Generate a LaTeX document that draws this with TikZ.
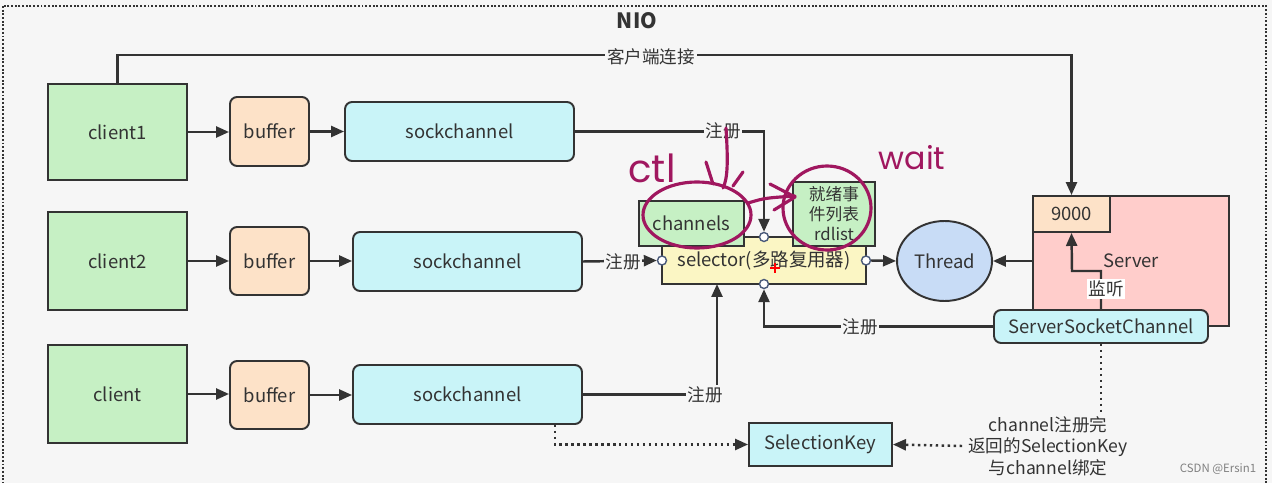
\documentclass[tikz,border=0pt]{standalone}
\usepackage{fontspec}
\setmainfont{Noto Sans CJK SC}
\newfontfamily\handfont{Poppins}
\usetikzlibrary{arrows.meta,shapes.geometric,calc}
\definecolor{bgc}{HTML}{F6F6F6}
\definecolor{linec}{HTML}{333333}
\definecolor{txtc}{HTML}{333333}
\definecolor{greenc}{HTML}{C6F0C4}
\definecolor{bufc}{HTML}{FDE2C8}
\definecolor{cyanc}{HTML}{C9F4F8}
\definecolor{selc}{HTML}{FBF6C4}
\definecolor{thrc}{HTML}{C8DCF6}
\definecolor{srvc}{HTML}{FFCDCB}
\definecolor{portc}{HTML}{4A5A7A}
\definecolor{handc}{HTML}{A0175F}
\begin{document}
\begin{tikzpicture}[x=0.02cm,y=-0.02cm,
  font=\fontsize{10.5}{13}\selectfont,
  box/.style={draw=linec,line width=1.1pt,text=txtc,inner sep=0pt,align=center},
  rbox/.style={box,rounded corners=4pt},
  conn/.style={draw=linec,line width=1.4pt,-{Triangle[length=0.26cm,width=0.22cm]}},
  plainc/.style={draw=linec,line width=1.4pt},
  dotc/.style={draw=linec,line width=1.4pt,dotted,-{Triangle[length=0.26cm,width=0.22cm]}},
  lbl/.style={fill=bgc,text=txtc,inner sep=1pt,font=\fontsize{10}{12}\selectfont},
  port/.style={circle,draw=portc,fill=white,line width=0.8pt,minimum size=0.18cm,inner sep=0pt},
  hw/.style={draw=handc,line width=1.8pt,line cap=round,line join=round},
]
\fill[bgc] (0,0) rectangle (1272,483);
\useasboundingbox (0,0) rectangle (1272,483);
\draw[linec,line width=1.1pt,densely dotted] (3,6) rectangle (1266,495);
\node[font=\bfseries\fontsize{12}{14}\selectfont,text=txtc] (title) at (637,21) {NIO};

% clients
\node[box,fill=greenc,minimum width=2.78cm,minimum height=1.92cm] (c1) at (117.5,132) {client1};
\node[box,fill=greenc,minimum width=2.78cm,minimum height=1.96cm] (c2) at (117.5,261) {client2};
\node[box,fill=greenc,minimum width=2.78cm,minimum height=1.96cm] (c3) at (117.5,394) {client};
% buffers
\node[rbox,fill=bufc,minimum width=1.58cm,minimum height=1.38cm] (b1) at (269.5,131.5) {buffer};
\node[rbox,fill=bufc,minimum width=1.58cm,minimum height=1.36cm] (b2) at (269.5,261) {buffer};
\node[rbox,fill=bufc,minimum width=1.58cm,minimum height=1.36cm] (b3) at (269.5,395) {buffer};
% sockchannels
\node[rbox,fill=cyanc,minimum width=4.58cm,minimum height=1.18cm] (s1) at (459.5,131.5) {sockchannel};
\node[rbox,fill=cyanc,minimum width=4.58cm,minimum height=1.18cm] (s2) at (467.5,261.5) {sockchannel};
\node[rbox,fill=cyanc,minimum width=4.58cm,minimum height=1.18cm] (s3) at (467.5,394.5) {sockchannel};

% selector
\node[box,fill=selc,minimum width=4.08cm,minimum height=0.94cm] (sel) at (764,260.5) {selector(多路复用器)};
\node[box,fill=greenc,minimum width=2.1cm,minimum height=0.9cm] (chs) at (691.5,223.5) {channels};
\node[box,fill=greenc,minimum width=1.64cm,minimum height=1.28cm,font=\fontsize{9.5}{11.4}\selectfont] (rdl) at (834,214) {就绪事\\件列表\\rdlist};
\node[port] (ptop) at (764,237) {};
\node[port] (pleft) at (662,260.5) {};
\node[port] (pright) at (866,260.5) {};
\node[port] (pbot) at (764,284) {};

% thread and server
\node[box,ellipse,fill=thrc,minimum width=1.9cm,minimum height=1.6cm] (thr) at (944.5,261) {Thread};
\node[box,fill=srvc,minimum width=3.92cm,minimum height=2.6cm] (srv) at (1131,261) {Server};
\node[box,fill=bufc,minimum width=1.54cm,minimum height=0.72cm] (p9000) at (1071.5,214) {9000};
\node[rbox,fill=cyanc,minimum width=4.28cm,minimum height=0.66cm] (ssc) at (1101,326.5) {ServerSocketChannel};
\node[box,fill=cyanc,minimum width=2.86cm,minimum height=0.86cm] (sk) at (820.5,444.5) {SelectionKey};
\node[text=txtc,align=center,font=\fontsize{10}{12.2}\selectfont] (note) at (1048,446) {channel注册完\\返回的SelectionKey\\与channel绑定};

% connectors
\coordinate (tr) at (1071.5,55);
\draw[conn] (c1.north) |- (tr) -- (p9000.north);
\node[lbl] (lk) at (651,57) {客户端连接};

\draw[conn] (c1.east) -- (c1.east -| b1.west);
\draw[conn] (b1.east) -- (b1.east -| s1.west);
\draw[conn] (c2.east) -- (c2.east -| b2.west);
\draw[conn] (b2.east) -- (b2.east -| s2.west);
\draw[conn] (c3.east) -- (c3.east -| b3.west);
\draw[conn] (b3.east) -- (b3.east -| s3.west);

\draw[conn] (s1.east) -| (ptop.north);
\node[lbl] (r1) at (723,131) {注册};
\draw[conn] (s2.east) -- (pleft.west);
\node[lbl] (r2) at (623,261.5) {注册};
\coordinate (sb) at (717,284);
\draw[conn] (s3.east) -| (sb);
\node[lbl] (r3) at (705,395) {注册};
\draw[conn] (ssc.west) -| (pbot.south);
\node[lbl] (r4) at (860,326.5) {注册};

\draw[conn] (pright.east) -- (thr.west);
\draw[conn] (srv.west) -- (thr.east);

\coordinate (lis) at (1072,271);
\draw[conn] (ssc.north) |- (lis) -- (p9000.south);
\node[lbl,fill=white] (l6) at (1106,289) {监听};

\coordinate (se) at (1101,413);
\draw[linec,line width=1.4pt,dotted] (ssc.south) -- (se);
\draw[dotc] (note.west) -- (sk.east);
\draw[dotc] ($(s3.south east)+(-28,0)$) |- (sk.west);

% handwritten annotations
\node[text=handc,font=\handfont\fontsize{22}{24}\selectfont] (ctl) at (652,168) {ctl};
\node[text=handc,font=\handfont\fontsize{18}{20}\selectfont] (wait) at (912,158) {wait};
\draw[hw] (697,215) ellipse [x radius=54,y radius=33];
\draw[hw] (827,208) ellipse [x radius=44,y radius=42];
\draw[hw] (726,128) .. controls (728,160) and (728,178) .. (723,188);
\draw[hw] (706,162) -- (713,184);
\draw[hw] (743,172) -- (733,186);
\draw[hw] (748,203) .. controls (765,198) .. (795,196);
\draw[hw] (770,184) -- (795,197) -- (774,210);
\draw[red,line width=1pt] (770,268) -- (780,268) (775,263) -- (775,273);

\node[text=gray,font=\fontsize{6.5}{8}\selectfont] (wm) at (1218,469) {CSDN @Ersin1};
\end{tikzpicture}
\end{document}
